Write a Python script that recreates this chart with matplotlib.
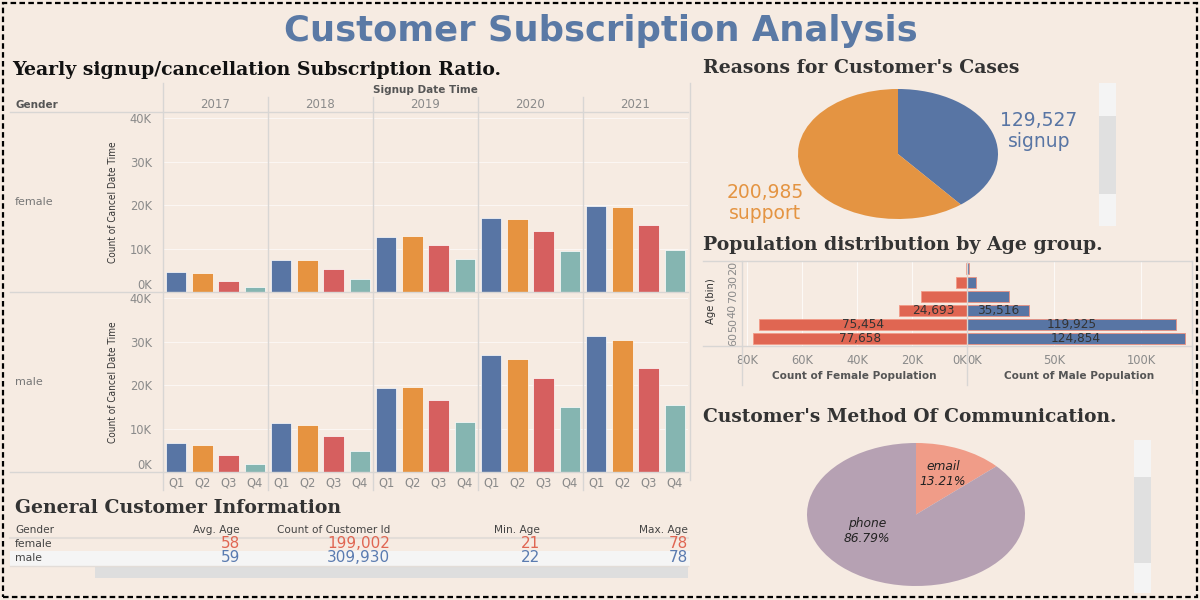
"""
Customer Subscription Analysis dashboard (Tableau-style recreation).
"""
import matplotlib
matplotlib.use('Agg')
import matplotlib.pyplot as plt
import matplotlib.patches as patches
import numpy as np

# ---- data ----
years = ['2017', '2018', '2019', '2020', '2021']
quarters = ['Q1', 'Q2', 'Q3', 'Q4']
female_cancel = [
    [4600, 4300, 2600, 1100],
    [7400, 7300, 5300, 3100],
    [12600, 12800, 10800, 7600],
    [17100, 16900, 14000, 9400],
    [19800, 19600, 15300, 9700],
]
male_cancel = [
    [6700, 6300, 3900, 1800],
    [11200, 10900, 8300, 4800],
    [19300, 19600, 16500, 11500],
    [27000, 26100, 21600, 14900],
    [31200, 30300, 24000, 15500],
]

case_labels = ['signup', 'support']
case_counts = [129527, 200985]

age_bins = ['20', '30', '70', '40', '50', '60']
female_pop = [400, 3900, 16600, 24693, 75454, 77658]
male_pop = [1000, 5300, 24000, 35516, 119925, 124854]
labelled_bins = ['40', '50', '60']

comm_labels = ['email', 'phone']
comm_share = [13.21, 86.79]

table_cols = ['Gender', 'Avg. Age', 'Count of Customer Id', 'Min. Age', 'Max. Age']
table_gender = ['female', 'male']
avg_age = [58, 59]
customer_count = [199002, 309930]
min_age = [21, 22]
max_age = [78, 78]

# ---- style ----
BG = '#F6EBE2'
Q_COLORS = ['#5875A4', '#E69340', '#D65F5F', '#85B5B1']
FEMALE_C = '#E06652'
MALE_C = '#5875A4'
LINE_C = '#D8D6D4'
TICK_C = '#8A8A8A'
SERIF = 'DejaVu Serif'
SANS = 'DejaVu Sans'

W, H = 1200, 600


def fx(x):
    return x / W


def fy(y):
    return 1 - y / H


def box(l, t, r, b):
    return [l / W, 1 - b / H, (r - l) / W, (b - t) / H]


def kfmt(v, p=None):
    return f'{v/1000:.0f}K'


fig = plt.figure(figsize=(12, 6), dpi=100, facecolor=BG)

# outer dashed border
fig.patches.append(patches.Rectangle((fx(3), fy(597)), fx(1194), 594 / H, transform=fig.transFigure,
                                     fill=False, edgecolor='black', linewidth=1.6,
                                     linestyle=(0, (2.5, 1.5))))

fig.text(fx(601), fy(31), 'Customer Subscription Analysis', ha='center', va='center',
         fontsize=25.5, fontweight='bold', family='DejaVu Sans', color='#5A79A5')


def line(x0, y0, x1, y1, color=LINE_C, lw=1.0):
    fig.add_artist(plt.Line2D([fx(x0), fx(x1)], [fy(y0), fy(y1)], color=color, linewidth=lw,
                              transform=fig.transFigure))


# ---- Yearly signup / cancellation bars ----
fig.text(fx(12), fy(70), 'Yearly signup/cancellation Subscription Ratio.', ha='left', va='center',
         fontsize=13.6, fontweight='bold', family=SERIF, color='#111111')
fig.text(fx(425), fy(90), 'Signup Date Time', ha='center', va='center', fontsize=7.5,
         family=SANS, fontweight='bold', color='#555555')
fig.text(fx(15), fy(105), 'Gender', ha='left', va='center', fontsize=7.5,
         family=SANS, fontweight='bold', color='#555555')

xs_left, xs_right = 163, 688
year_w = (xs_right - xs_left) / len(years)
for i, yr in enumerate(years):
    fig.text(fx(xs_left + year_w * (i + 0.5)), fy(105), yr, ha='center', va='center',
             fontsize=8.5, family=SANS, color=TICK_C)

line(163, 83, 163, 490)
for i in range(1, len(years)):
    line(xs_left + year_w * i, 97, xs_left + year_w * i, 490)
line(690, 83, 690, 480)
line(10, 112, 688, 112)
line(10, 292, 688, 292)
line(10, 472, 688, 472)

for gi, (gname, data, (top, bot)) in enumerate(zip(['female', 'male'], [female_cancel, male_cancel],
                                                   [(112, 292), (292, 472)])):
    ax = fig.add_axes(box(163, top, 688, bot))
    ax.set_facecolor('none')
    for yi in range(len(years)):
        xpos = yi * 4 + np.arange(4)
        ax.bar(xpos, data[yi], width=0.78, color=Q_COLORS, edgecolor='#FFFFFF', linewidth=0.5)
    ax.set_xlim(-0.5, 19.5)
    ax.set_ylim(0, 41400)
    ax.set_yticks([0, 10000, 20000, 30000, 40000])
    ax.yaxis.set_major_formatter(plt.FuncFormatter(kfmt))
    ax.tick_params(axis='y', length=0, labelsize=8.3, labelcolor=TICK_C, pad=8)
    ylabs = ax.get_yticklabels()
    for lab in ylabs:
        lab.set_family(SANS)
    ylabs[0].set_va('bottom')
    ax.grid(True, axis='y', color='#FFFFFF', alpha=0.6, linewidth=0.8)
    ax.set_axisbelow(True)
    for s in ax.spines.values():
        s.set_visible(False)
    if gi == 1:
        ax.set_xticks(np.arange(20))
        ax.set_xticklabels(quarters * len(years), fontsize=8.3, color=TICK_C, family=SANS)
        ax.tick_params(axis='x', length=0, pad=3)
    else:
        ax.set_xticks([])
    mid = (top + bot) / 2
    fig.text(fx(15), fy(mid), gname, ha='left', va='center', fontsize=8, family=SANS,
             color='#777777')
    fig.text(fx(113), fy(mid), 'Count of Cancel Date Time', ha='center', va='center',
             rotation=90, fontsize=7.2, family=SANS, fontstretch='condensed', color='#333333')

# ---- General customer information table ----
fig.text(fx(15), fy(508), 'General Customer Information', ha='left', va='center',
         fontsize=13.6, fontweight='bold', family=SERIF, color='#333333')
col_x = [15, 240, 390, 540, 688]
for j, c in enumerate(table_cols):
    fig.text(fx(col_x[j]), fy(530), c, ha='left' if j == 0 else 'right', va='center',
             fontsize=7.6, family=SANS, color='#444444')
line(10, 538, 688, 538, color='#E3DDD8', lw=1.5)
fig.patches.append(patches.Rectangle((fx(10), fy(566)), fx(680), 15 / H, transform=fig.transFigure,
                                     facecolor='#F5F5F5', edgecolor='none'))
line(10, 566, 688, 566, color='#E3DDD8', lw=1.0)
fig.patches.append(patches.Rectangle((fx(95), fy(578)), fx(593), 12 / H, transform=fig.transFigure,
                                     facecolor='#DEDEDE', edgecolor='none'))
row_y = [544, 558]
row_c = ['#E06652', '#5A7BB0']
for r in range(2):
    vals = [f'{avg_age[r]}', f'{customer_count[r]:,}', f'{min_age[r]}', f'{max_age[r]}']
    fig.text(fx(col_x[0]), fy(row_y[r]), table_gender[r], ha='left', va='center', fontsize=7.8,
             family=SANS, color='#444444')
    for j, v in enumerate(vals):
        fig.text(fx(col_x[j + 1]), fy(row_y[r]), v, ha='right', va='center', fontsize=11,
                 family=SANS, color=row_c[r])

# ---- Reasons for customer's cases pie ----
fig.text(fx(703), fy(68), "Reasons for Customer's Cases", ha='left', va='center',
         fontsize=13.6, fontweight='bold', family=SERIF, color='#333333')
ax_p1 = fig.add_axes(box(798, 89, 998, 219))
ax_p1.pie(case_counts, colors=[MALE_C, '#E49442'], startangle=90, counterclock=False,
          wedgeprops=dict(linewidth=0))
ax_p1.set_aspect('auto')
ax_p1.set_xlim(-1, 1)
ax_p1.set_ylim(-1, 1)
ax_p1.axis('off')
fig.text(fx(1039), fy(131), f'{case_counts[0]:,}\n{case_labels[0]}', ha='center', va='center',
         fontsize=13.5, family=SANS, color=MALE_C, linespacing=1.1)
fig.text(fx(765), fy(203), f'{case_counts[1]:,}\n{case_labels[1]}', ha='center', va='center',
         fontsize=13.5, family=SANS, color='#E49442', linespacing=1.1)


def scrollbar(x0, x1, y0, y1, m0, m1):
    fig.patches.append(patches.Rectangle((fx(x0), fy(y1)), fx(x1 - x0), (y1 - y0) / H,
                                         transform=fig.transFigure, facecolor='#F4F4F4',
                                         edgecolor='none'))
    fig.patches.append(patches.Rectangle((fx(x0), fy(m1)), fx(x1 - x0), (m1 - m0) / H,
                                         transform=fig.transFigure, facecolor='#E0E0E0',
                                         edgecolor='none'))


scrollbar(1099, 1116, 83, 226, 116, 194)

# ---- Population pyramid ----
fig.text(fx(703), fy(245), 'Population distribution by Age group.', ha='left', va='center',
         fontsize=13.6, fontweight='bold', family=SERIF, color='#333333')
line(703, 261, 1192, 261)
line(703, 346, 1192, 346)
line(742, 261, 742, 385)
line(967, 261, 967, 385)
line(1192, 261, 1192, 393)

ypos = np.arange(len(age_bins))
ax_f = fig.add_axes(box(742, 261, 967, 346))
ax_m = fig.add_axes(box(967, 261, 1192, 346))
ax_f.barh(ypos, female_pop, height=0.78, color=FEMALE_C, edgecolor='#F29A88', linewidth=0.6)
ax_m.barh(ypos, male_pop, height=0.78, color=MALE_C, edgecolor='#E88F80', linewidth=0.6)
ax_f.set_xlim(81800, 0)
ax_m.set_xlim(0, 129000)
for ax, ticks in [(ax_f, [80000, 60000, 40000, 20000, 0]), (ax_m, [0, 50000, 100000])]:
    ax.set_facecolor('none')
    ax.set_ylim(len(age_bins) - 0.5, -0.5)
    ax.set_xticks(ticks)
    ax.xaxis.set_major_formatter(plt.FuncFormatter(kfmt))
    ax.tick_params(axis='x', length=0, labelsize=8.3, labelcolor=TICK_C, pad=6)
    for lab in ax.get_xticklabels():
        lab.set_family(SANS)
    ax.grid(True, axis='x', color='#FFFFFF', alpha=0.7, linewidth=0.8)
    ax.set_axisbelow(True)
    for s in ax.spines.values():
        s.set_visible(False)
ax_f.get_xticklabels()[-1].set_ha('right')
ax_m.get_xticklabels()[0].set_ha('left')
ax_m.set_yticks([])
ax_f.set_yticks(ypos)
ax_f.set_yticklabels(age_bins, rotation=90, va='center', fontsize=8, color=TICK_C, family=SANS)
ax_f.tick_params(axis='y', length=0, pad=3)
for i, b in enumerate(age_bins):
    if b in labelled_bins:
        ax_f.text(female_pop[i] / 2, i, f'{female_pop[i]:,}', ha='center', va='center',
                  fontsize=8.7, family=SANS, color='#333333')
        ax_m.text(male_pop[i] / 2, i, f'{male_pop[i]:,}', ha='center', va='center',
                  fontsize=8.7, family=SANS, color='#333333')
fig.text(fx(711), fy(301), 'Age (bin)', ha='center', va='center', rotation=90, fontsize=8,
         family=SANS, fontstretch='condensed', color='#333333')
fig.text(fx(854), fy(376), 'Count of Female Population', ha='center', va='center', fontsize=7.6,
         family=SANS, fontweight='bold', color='#555555')
fig.text(fx(1079), fy(376), 'Count of Male Population', ha='center', va='center', fontsize=7.6,
         family=SANS, fontweight='bold', color='#555555')

# ---- Method of communication pie ----
fig.text(fx(703), fy(417), "Customer's Method Of Communication.", ha='left', va='center',
         fontsize=13.4, fontweight='bold', family=SERIF, color='#333333')
ax_p2 = fig.add_axes(box(807, 443, 1025, 586))
ax_p2.pie(comm_share, colors=['#F09C88', '#B6A1B3'], startangle=90, counterclock=False,
          wedgeprops=dict(linewidth=0))
ax_p2.set_aspect('auto')
ax_p2.set_xlim(-1, 1)
ax_p2.set_ylim(-1, 1)
ax_p2.axis('off')
fig.text(fx(943), fy(474), f'{comm_labels[0]}\n{comm_share[0]:.2f}%', ha='center', va='center',
         fontsize=8.8, style='italic', family=SANS, color='#222222', linespacing=1.2)
fig.text(fx(867), fy(531), f'{comm_labels[1]}\n{comm_share[1]:.2f}%', ha='center', va='center',
         fontsize=8.8, style='italic', family=SANS, color='#222222', linespacing=1.2)
scrollbar(1134, 1151, 440, 593, 477, 563)

plt.savefig('out.png', dpi=100, facecolor=BG)
